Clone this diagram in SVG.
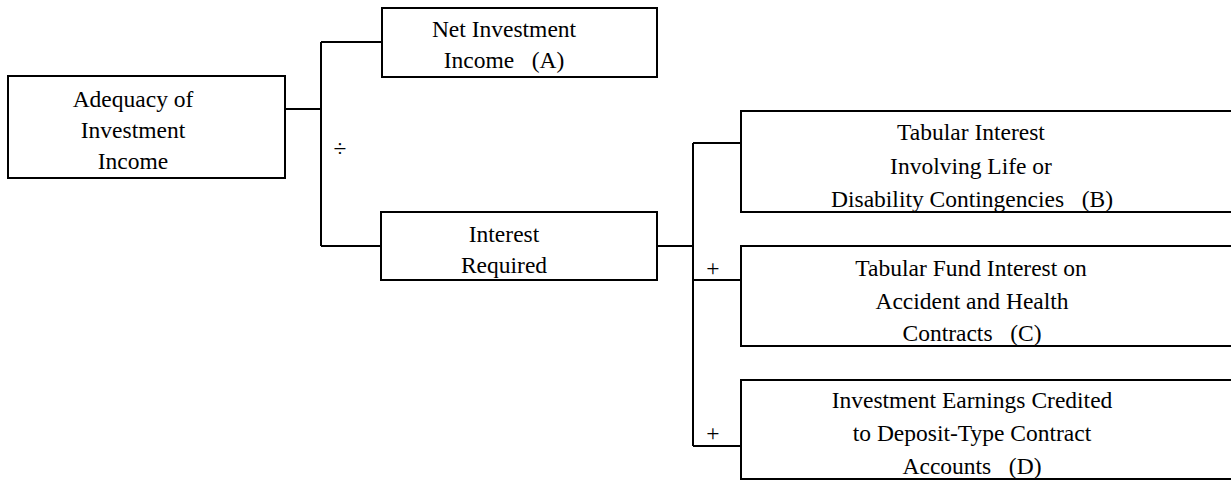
<svg xmlns="http://www.w3.org/2000/svg" width="1231" height="481" viewBox="0 0 1231 481">
<style>
.box{fill:#fff;stroke:#000;stroke-width:2}
.ln{fill:none;stroke:#000;stroke-width:2}
text{font-family:"Liberation Serif","Times New Roman",serif;font-size:23.5px;fill:#000;text-anchor:middle;white-space:pre}
</style>
<rect width="1231" height="481" fill="#fff"/>
<g id="connectors">
<path class="ln" d="M285,109H321M321,42V246M321,42H382M321,246H381M657,246H693M693,143V446M693,143H741M693,280H741M693,446H741"/>
<text x="340" y="156">÷</text>
<text x="713" y="276">+</text>
<text x="713" y="441">+</text>
</g>
<g id="adequacy">
<rect class="box" x="8" y="76" width="277" height="102"/>
<text x="133" y="107">Adequacy of</text>
<text x="133" y="138">Investment</text>
<text x="133" y="169">Income</text>
</g>
<g id="netIncome">
<rect class="box" x="382" y="8" width="275" height="69"/>
<text x="504" y="37">Net Investment</text>
<text x="504" y="68">Income   (A)</text>
</g>
<g id="interestRequired">
<rect class="box" x="381" y="212" width="276" height="68"/>
<text x="504" y="242">Interest</text>
<text x="504" y="273">Required</text>
</g>
<g id="tabularB">
<rect class="box" x="741" y="111" width="510" height="101"/>
<text x="971" y="140">Tabular Interest</text>
<text x="971" y="174">Involving Life or</text>
<text x="972" y="207">Disability Contingencies   (B)</text>
</g>
<g id="tabularC">
<rect class="box" x="741" y="246" width="510" height="100"/>
<text x="971" y="276">Tabular Fund Interest on</text>
<text x="972" y="309">Accident and Health</text>
<text x="972" y="341">Contracts   (C)</text>
</g>
<g id="earningsD">
<rect class="box" x="741" y="380" width="510" height="99"/>
<text x="972" y="408">Investment Earnings Credited</text>
<text x="972" y="441">to Deposit-Type Contract</text>
<text x="972" y="474">Accounts   (D)</text>
</g>
</svg>
